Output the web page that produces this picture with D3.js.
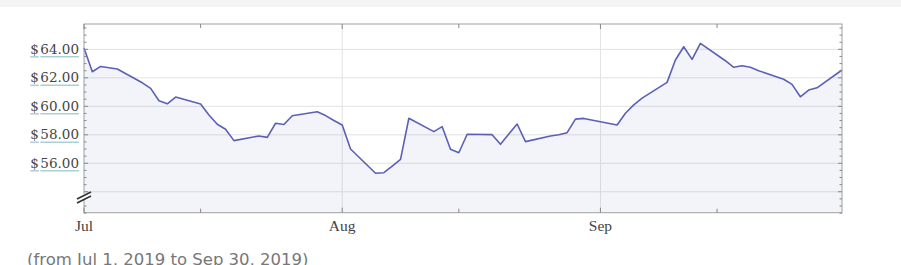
<!DOCTYPE html>
<html>
<head>
<meta charset="utf-8">
<script src="https://cdn.jsdelivr.net/npm/d3@7"></script>
<style>
  body { margin: 0; background: #fff; }
</style>
</head>
<body>
<svg></svg>
<script>
// trading days, Q3 2019
var days = ["2019-07-01","2019-07-02","2019-07-03","2019-07-05","2019-07-08","2019-07-09","2019-07-10","2019-07-11","2019-07-12",
  "2019-07-15","2019-07-16","2019-07-17","2019-07-18","2019-07-19","2019-07-22","2019-07-23","2019-07-24","2019-07-25","2019-07-26",
  "2019-07-29","2019-07-30","2019-07-31","2019-08-01","2019-08-02","2019-08-05","2019-08-06","2019-08-07","2019-08-08","2019-08-09",
  "2019-08-12","2019-08-13","2019-08-14","2019-08-15","2019-08-16","2019-08-19","2019-08-20","2019-08-21","2019-08-22","2019-08-23",
  "2019-08-26","2019-08-27","2019-08-28","2019-08-29","2019-08-30","2019-09-03","2019-09-04","2019-09-05","2019-09-06",
  "2019-09-09","2019-09-10","2019-09-11","2019-09-12","2019-09-13","2019-09-16","2019-09-17","2019-09-18","2019-09-19","2019-09-20",
  "2019-09-23","2019-09-24","2019-09-25","2019-09-26","2019-09-27","2019-09-30"]
var prices = [64.10,62.43,62.80,62.62,61.65,61.26,60.39,60.18,60.65,
  60.16,59.39,58.74,58.39,57.59,57.92,57.82,58.81,58.72,59.34,
  59.62,59.35,59.00,58.69,57.00,55.30,55.34,55.80,56.28,59.16,
  58.22,58.57,56.98,56.74,58.04,58.01,57.33,58.05,58.76,57.52,
  57.92,58.00,58.15,59.10,59.15,58.69,59.51,60.10,60.58,
  61.68,63.25,64.18,63.30,64.42,63.20,62.74,62.85,62.74,62.50,
  61.90,61.54,60.67,61.14,61.30,62.55]
var yTicks = [56, 58, 60, 62, 64]
var monthTicks = ["2019-07-01","2019-08-01","2019-09-01"]
var midTicks = ["2019-07-15","2019-08-15","2019-09-15"]
var caption = "(from Jul 1, 2019 to Sep 30, 2019)"

var parse = d3.timeParse("%Y-%m-%d")
var data = days.map((d, i) => ({date: parse(d), value: prices[i]}))

var svg = d3.select("svg")
    .attr("width", 901)
    .attr("height", 265)

// gray band on top
svg.append("rect").attr("x", 0).attr("y", 0).attr("width", 901).attr("height", 7).attr("fill", "#f4f4f4")

var pLeft = 84, pRight = 842, pTop = 24, pBottom = 212.7

var x = d3.scaleTime()
    .domain([parse("2019-07-01"), parse("2019-09-30")])
    .range([pLeft, pRight])
var y = d3.scaleLinear()
    .domain([52.53, 65.78])
    .range([pBottom, pTop])

// horizontal grid (incl. $54 line)
svg.append("g").selectAll("line")
    .data([54].concat(yTicks))
    .enter().append("line")
    .attr("x1", pLeft).attr("x2", pRight)
    .attr("y1", d => y(d)).attr("y2", d => y(d))
    .attr("stroke", "#e2e2e2").attr("stroke-width", 1)

// vertical grid
svg.append("g").selectAll("line")
    .data(monthTicks.slice(1).map(parse))
    .enter().append("line")
    .attr("x1", d => x(d)).attr("x2", d => x(d))
    .attr("y1", pTop).attr("y2", pBottom)
    .attr("stroke", "#e2e2e2").attr("stroke-width", 1)

// area + line
var area = d3.area()
    .x(d => x(d.date))
    .y0(pBottom)
    .y1(d => y(d.value))
svg.append("path").datum(data)
    .attr("d", area)
    .attr("fill", "#5c5fb8")
    .attr("fill-opacity", 0.07)

var line = d3.line()
    .x(d => x(d.date))
    .y(d => y(d.value))
svg.append("path").datum(data)
    .attr("d", line)
    .attr("fill", "none")
    .attr("stroke", "#5b60b6")
    .attr("stroke-width", 1.6)
    .attr("stroke-linejoin", "round")

// frame
svg.append("rect")
    .attr("x", pLeft).attr("y", pTop)
    .attr("width", pRight - pLeft).attr("height", pBottom - pTop)
    .attr("fill", "none").attr("stroke", "#a0a0a0").attr("stroke-width", 1)

// y ticks (left & right, inward)
var minor = d3.range(52.5, 65.6, 0.5)
var tickG = svg.append("g").attr("stroke", "#888").attr("stroke-width", 1)
minor.forEach(function (v) {
    var major = Math.abs(v - Math.round(v / 2) * 2) < 1e-6
    var len = major ? 4 : 2.5
    tickG.append("line").attr("x1", pLeft).attr("x2", pLeft + len).attr("y1", y(v)).attr("y2", y(v))
    tickG.append("line").attr("x1", pRight).attr("x2", pRight - len).attr("y1", y(v)).attr("y2", y(v))
})
// x ticks (top & bottom)
monthTicks.concat(midTicks).forEach(function (s) {
    var isMajor = monthTicks.indexOf(s) >= 0
    var len = isMajor ? 5 : 4
    var xx = x(parse(s))
    tickG.append("line").attr("x1", xx).attr("x2", xx).attr("y1", pBottom).attr("y2", pBottom - len)
    tickG.append("line").attr("x1", xx).attr("x2", xx).attr("y1", pTop).attr("y2", pTop + len)
})

// axis break mark
var brk = svg.append("g").attr("stroke", "#333").attr("stroke-width", 1.8)
brk.append("rect").attr("x", 78).attr("y", 194).attr("width", 12).attr("height", 6).attr("fill", "#fff").attr("stroke", "none")
brk.append("line").attr("x1", 77).attr("y1", 199).attr("x2", 91).attr("y2", 192)
brk.append("line").attr("x1", 77).attr("y1", 203).attr("x2", 91).attr("y2", 196)

// y labels with underlines
var fmt = d3.format(".2f")
yTicks.forEach(function (v) {
    var yy = y(v)
    var num = svg.append("text")
        .attr("x", 79).attr("y", yy + 4.5)
        .attr("text-anchor", "end")
        .attr("font-family", "DejaVu Serif")
        .attr("font-size", 13.5)
        .attr("fill", "#444")
        .text(fmt(v))
    var w = num.node().getComputedTextLength()
    var dol = svg.append("text")
        .attr("x", 79 - w - 1.5).attr("y", yy + 4.5)
        .attr("text-anchor", "end")
        .attr("font-family", "DejaVu Serif")
        .attr("font-size", 13.5)
        .attr("fill", "#444")
        .text("$")
    var dw = dol.node().getComputedTextLength()
    svg.append("line").attr("x1", 79 - w).attr("x2", 79).attr("y1", yy + 7.5).attr("y2", yy + 7.5)
        .attr("stroke", "#aacfd8").attr("stroke-width", 1.5)
    svg.append("line").attr("x1", 79 - w - 1.5 - dw).attr("x2", 79 - w - 1.5).attr("y1", yy + 7.5).attr("y2", yy + 7.5)
        .attr("stroke", "#aacfd8").attr("stroke-width", 1.5)
})

// x labels
var monthFmt = d3.timeFormat("%b")
svg.append("g").selectAll("text")
    .data(monthTicks.map(parse))
    .enter().append("text")
    .attr("x", d => x(d)).attr("y", 231)
    .attr("text-anchor", "middle")
    .attr("font-family", "Liberation Serif")
    .attr("font-size", 15.5)
    .attr("fill", "#444")
    .text(d => monthFmt(d))

// caption
svg.append("text")
    .attr("x", 27).attr("y", 265)
    .attr("font-family", "DejaVu Sans")
    .attr("font-size", 16.5)
    .attr("fill", "#777")
    .text(caption)
</script>
</body>
</html>
